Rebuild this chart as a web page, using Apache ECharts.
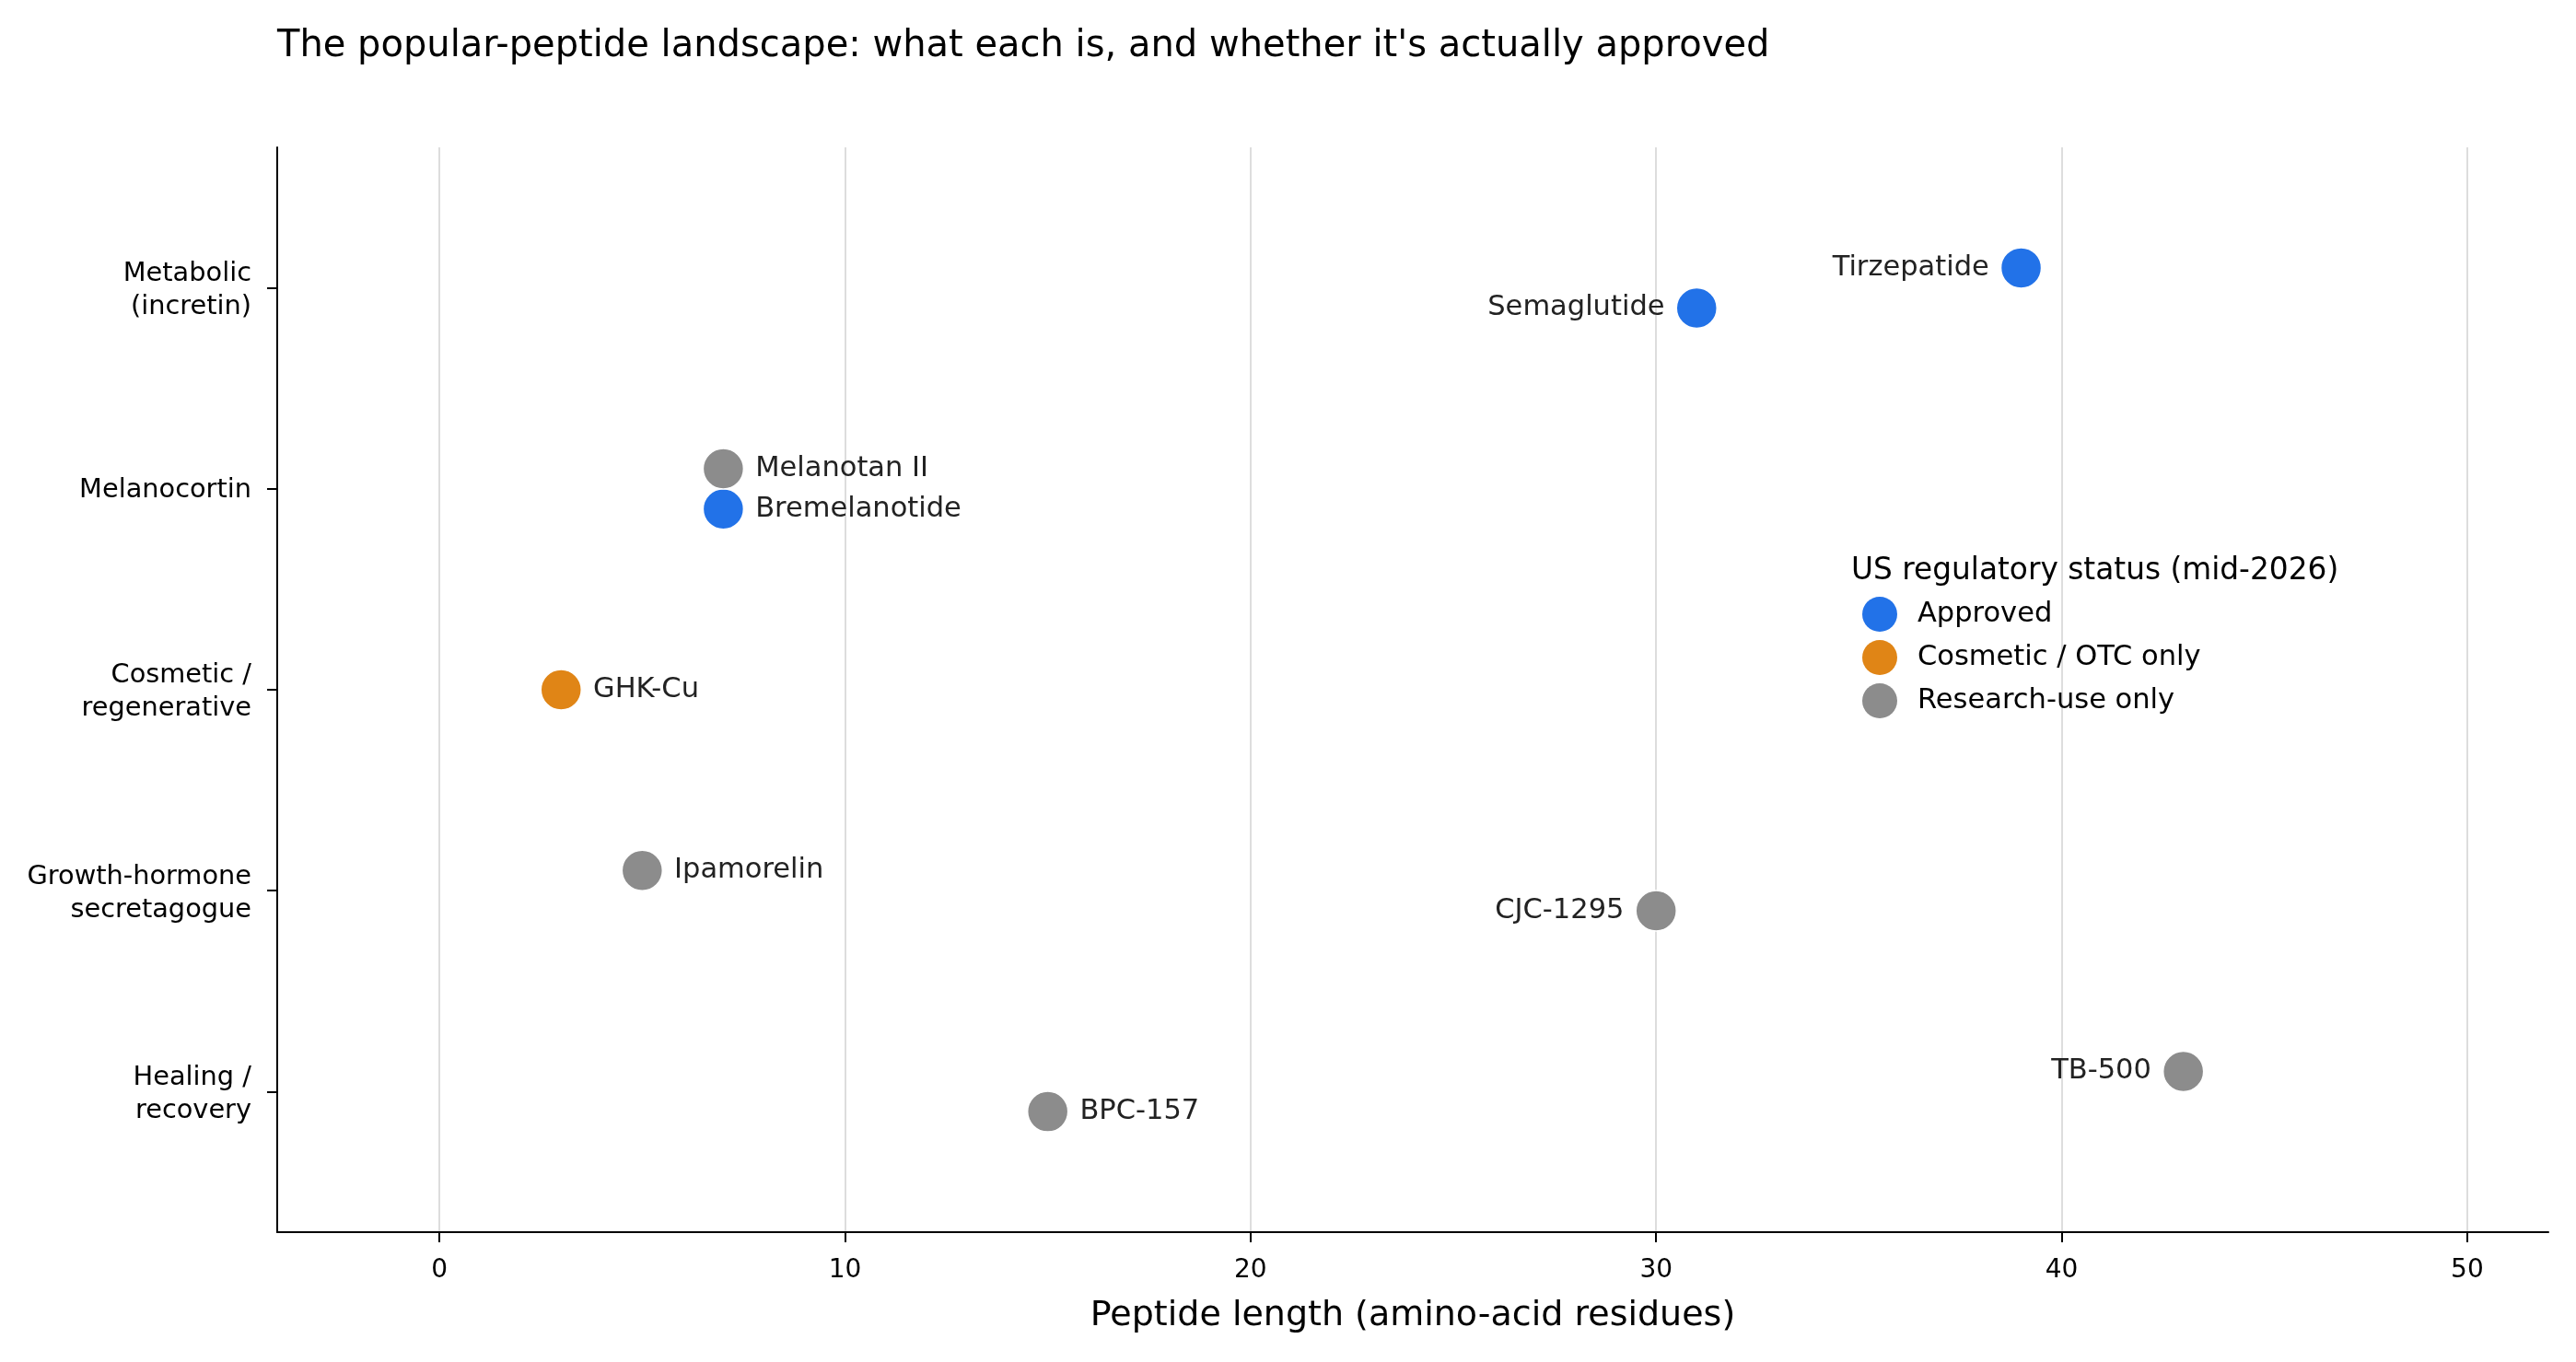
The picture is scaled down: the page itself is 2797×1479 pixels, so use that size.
<!DOCTYPE html>
<html>
<head>
<meta charset="utf-8">
<title>Popular peptides</title>
<script src="https://cdn.jsdelivr.net/npm/echarts@6/dist/echarts.min.js"></script>
<style>
  html, body { margin: 0; padding: 0; background: #fff; }
  #chart { width: 2797px; height: 1479px; }
</style>
</head>
<body>
<div id="chart"></div>
<script>
// peptide classes, bottom to top
const classes = ['Healing /\nrecovery', 'Growth-hormone\nsecretagogue', 'Cosmetic /\nregenerative', 'Melanocortin', 'Metabolic\n(incretin)'];
const statuses = ['Approved', 'Cosmetic / OTC only', 'Research-use only'];
const statusColors = ['#2272e8', '#e08516', '#8c8c8c'];

const peptides = ['Tirzepatide', 'Semaglutide', 'Melanotan II', 'Bremelanotide', 'GHK-Cu', 'Ipamorelin', 'CJC-1295', 'TB-500', 'BPC-157'];
const lengths = [39, 31, 7, 7, 3, 5, 30, 43, 15];
const classIdx = [4, 4, 3, 3, 2, 1, 1, 0, 0];
const jitter = [0.1, -0.1, 0.1, -0.1, 0, 0.1, -0.1, 0.1, -0.1];
const statusIdx = [0, 0, 2, 0, 1, 2, 2, 2, 2];
const labelSide = ['left', 'left', 'right', 'right', 'right', 'right', 'left', 'left', 'right'];

const xTicks = [0, 10, 20, 30, 40, 50];
const yTicks = [0, 1, 2, 3, 4];

const FONT = '"DejaVu Sans", sans-serif';

const series = statuses.map((st, s) => {
  const data = [];
  peptides.forEach((p, i) => {
    if (statusIdx[i] !== s) return;
    data.push({
      name: p,
      value: [lengths[i], classIdx[i] + jitter[i]],
      label: { position: labelSide[i] }
    });
  });
  return {
    name: st,
    type: 'scatter',
    symbol: 'circle',
    symbolSize: 44,
    itemStyle: { color: statusColors[s], borderColor: '#fff', borderWidth: 1.5, opacity: 1 },
    label: {
      show: true,
      formatter: p => p.name,
      distance: 12,
      fontFamily: FONT,
      fontSize: 30.5,
      color: '#222'
    },
    emphasis: { disabled: true },
    data: data
  };
});

// two-line class labels sit a touch lower than single-line ones
function classLabel(v) {
  const c = classes[Math.round(v)];
  if (!c) return '';
  return c.indexOf('\n') >= 0 ? c.split('\n').map(l => '{m|' + l + '}').join('\n') : '{s|' + c + '}';
}

const chart = echarts.init(document.getElementById('chart'), null, { renderer: 'canvas' });
chart.setOption({
  animation: false,
  backgroundColor: '#fff',
  textStyle: { fontFamily: FONT },
  title: {
    text: "The popular-peptide landscape: what each is, and whether it's actually approved",
    left: 296,
    top: 26,
    textStyle: { fontFamily: FONT, fontSize: 40, fontWeight: 'normal', color: '#000' }
  },
  grid: { left: 301, right: 30, top: 160, bottom: 141, containLabel: false },
  legend: {
    data: statuses,
    orient: 'vertical',
    left: 2017,
    top: 643,
    itemWidth: 38,
    itemHeight: 38,
    itemGap: 9,
    icon: 'circle',
    itemStyle: { borderWidth: 0 },
    textStyle: { fontFamily: FONT, fontSize: 30.5, lineHeight: 38, color: '#000', padding: [0, 0, 0, 17] },
    selectedMode: false
  },
  graphic: [{
    type: 'text',
    left: 2010,
    top: 604,
    style: { text: 'US regulatory status (mid-2026)', font: '32.8px "DejaVu Sans", sans-serif', fill: '#000' }
  }],
  xAxis: {
    type: 'value',
    min: -4,
    max: 52,
    name: 'Peptide length (amino-acid residues)',
    nameLocation: 'middle',
    nameGap: 72,
    nameTextStyle: { fontFamily: FONT, fontSize: 38, color: '#000' },
    axisLine: { show: true, onZero: false, lineStyle: { color: '#000', width: 2 } },
    axisTick: { show: true, customValues: xTicks, length: 11, lineStyle: { color: '#000', width: 2 } },
    axisLabel: { customValues: xTicks, margin: 28, fontFamily: FONT, fontSize: 28, color: '#000' },
    splitLine: { show: true, lineStyle: { color: '#dddddd', width: 2 } }
  },
  yAxis: {
    type: 'value',
    min: -0.7,
    max: 4.7,
    axisLine: { show: true, onZero: false, lineStyle: { color: '#000', width: 2 } },
    axisTick: { show: true, customValues: yTicks, length: 11, lineStyle: { color: '#000', width: 2 } },
    axisLabel: {
      customValues: yTicks,
      margin: 28,
      color: '#000',
      align: 'right',
      formatter: classLabel,
      rich: {
        m: { fontFamily: FONT, fontSize: 28.8, lineHeight: 36, color: '#000', padding: [6, 0, 0, 0] },
        s: { fontFamily: FONT, fontSize: 28.8, lineHeight: 36, color: '#000', padding: [4, 0, 0, 0] }
      }
    },
    splitLine: { show: false }
  },
  series: series
});
</script>
</body>
</html>
